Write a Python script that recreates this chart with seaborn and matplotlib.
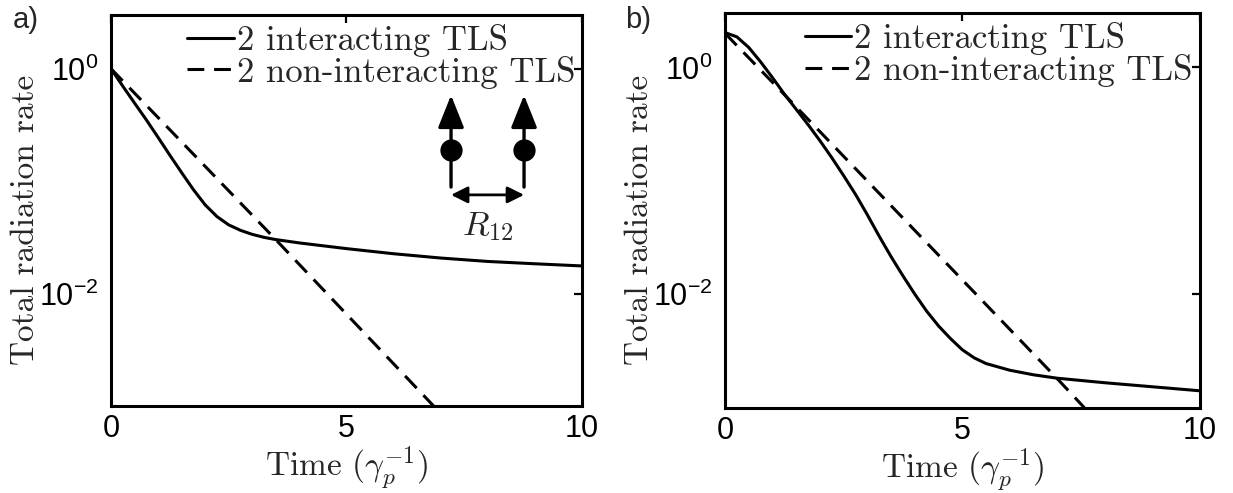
import numpy as np
import pandas as pd
import matplotlib
matplotlib.use("Agg")
import matplotlib.pyplot as plt
import seaborn as sns

# ---------------- data ----------------
# panel a: interacting TLS (solid)
t_a_int = [0.0, 0.25, 0.5, 0.75, 1.0, 1.25, 1.5, 1.75, 2.0, 2.25, 2.5, 2.75, 3.0,
           3.25, 3.5, 4.0, 5.0, 6.0, 7.0, 8.0, 9.0, 10.0]
r_a_int = [1.0, 0.700, 0.495, 0.351, 0.245, 0.170, 0.1190, 0.0840, 0.0615, 0.0484,
           0.0408, 0.0365, 0.0336, 0.0316, 0.0302, 0.0282, 0.0251, 0.0226, 0.0207,
           0.0193, 0.0184, 0.0176]
# panel a: non-interacting TLS (dashed)
t_a_non = [0.0, 3.45, 6.85]
r_a_non = [1.0, 0.0317, 1.0e-3]

# panel b: interacting TLS (solid)
t_b_int = [0.0, 0.25, 0.5, 0.75, 1.0, 1.25, 1.5, 1.75, 2.0, 2.25, 2.5, 2.75, 3.0,
           3.25, 3.5, 3.75, 4.0, 4.25, 4.5, 4.75, 5.0, 5.25, 5.5, 6.0, 6.5, 7.0,
           8.0, 9.0, 10.0]
r_b_int = [2.03, 1.86, 1.50, 1.12, 0.813, 0.582, 0.427, 0.313, 0.226, 0.160, 0.111,
           0.0759, 0.0501, 0.0324, 0.0214, 0.0145, 0.0100, 0.00708, 0.00525, 0.00407,
           0.00324, 0.00275, 0.00245, 0.00214, 0.00195, 0.00182, 0.00166, 0.00153,
           0.00141]
# panel b: non-interacting TLS (dashed)
t_b_non = [0.0, 1.13, 7.0, 7.57]
r_b_non = [2.0, 0.65, 0.0018, 1.0e-3]

labels = ["2 interacting TLS", "2 non-interacting TLS"]
x_ticks = [0, 5, 10]
y_ticks = [1e-2, 1e0]
y_ticklabels = [r"$\mathdefault{10^{-2}}$", r"$\mathdefault{10^{0}}$"]
panel_tags = ["a)", "b)"]
xlabel = r"Time ($\gamma_p^{-1}$)"
ylabel = "Total radiation rate"

# ---------------- style ----------------
sns.set_style("white")
plt.rcParams["font.family"] = ["Liberation Sans", "DejaVu Sans"]
plt.rcParams["mathtext.fontset"] = "cm"
plt.rcParams["axes.formatter.use_mathtext"] = True

fig = plt.figure(figsize=(12.33, 4.93), dpi=100)
ax1 = fig.add_axes([0.0900, 0.1765, 0.382, 0.793])
ax2 = fig.add_axes([0.5880, 0.1730, 0.385, 0.800])

serif = "cmr10"
LW = 2.2
FS_LEG = 25
FS_X = 24
FS_Y = 24

def draw(ax, t_int, r_int, t_non, r_non):
    df_i = pd.DataFrame({"t": t_int, "r": r_int})
    df_n = pd.DataFrame({"t": t_non, "r": r_non})
    sns.lineplot(data=df_i, x="t", y="r", ax=ax, color="black", lw=LW,
                 label=labels[0], estimator=None, sort=False)
    sns.lineplot(data=df_n, x="t", y="r", ax=ax, color="black", lw=LW,
                 label=labels[1], estimator=None, sort=False,
                 dashes=False, linestyle=(0, (5.5, 3.2)))
    ax.set_yscale("log")
    ax.set_xlim(0, 10)
    ax.set_ylim(1e-3, 3.0)
    ax.set_xticks(x_ticks)
    ax.set_xticklabels([str(v) for v in x_ticks])
    ax.set_yticks(y_ticks)
    ax.set_yticklabels(y_ticklabels)
    ax.yaxis.set_minor_locator(matplotlib.ticker.NullLocator())
    ax.tick_params(axis="both", which="major", direction="in", length=6, width=1.6,
                   labelsize=22, top=True, right=True, colors="black")
    ax.tick_params(axis="x", pad=6)
    ax.tick_params(axis="y", pad=9)
    for s in ax.spines.values():
        s.set_linewidth(2.2)
        s.set_color("black")
    ax.set_xlabel(xlabel, fontfamily=serif, fontsize=FS_X, labelpad=0.5)
    ax.set_ylabel(ylabel, fontfamily=serif, fontsize=FS_Y)
    ax.yaxis.set_label_coords(-0.15, 0.476)
    leg = ax.legend(loc="upper right", bbox_to_anchor=(1.0, 0.995), frameon=False,
                    prop={"family": serif, "size": FS_LEG}, handlelength=1.35,
                    handletextpad=0.08, labelspacing=-0.04, borderaxespad=0.0,
                    borderpad=0.2)
    for h in leg.get_lines():
        h.set_linewidth(LW)

draw(ax1, t_a_int, r_a_int, t_a_non, r_a_non)
draw(ax2, t_b_int, r_b_int, t_b_non, r_b_non)

# ---------------- inset sketch (panel a) ----------------
tr = ax1.transAxes
for xa in (0.722, 0.877):
    ax1.annotate("", xy=(xa, 0.795), xytext=(xa, 0.560), xycoords=tr, textcoords=tr,
                 arrowprops=dict(arrowstyle="-|>,head_length=20,head_width=8",
                                 mutation_scale=1, lw=2.4, color="black",
                                 shrinkA=0, shrinkB=0))
    ax1.plot([xa], [0.655], marker="o", ms=15, color="black", transform=tr, clip_on=False)
ax1.annotate("", xy=(0.877, 0.540), xytext=(0.722, 0.540), xycoords=tr, textcoords=tr,
             arrowprops=dict(arrowstyle="<|-|>,head_length=10,head_width=5",
                             mutation_scale=1, lw=2.0, color="black",
                             shrinkA=0, shrinkB=0))
ax1.text(0.80, 0.458, r"$R_{12}$", transform=tr, ha="center", va="center", fontsize=25)

fig.text(13 / 1233, 1 - 6 / 493, panel_tags[0], ha="left", va="top", fontsize=21)
fig.text(625 / 1233, 1 - 6 / 493, panel_tags[1], ha="left", va="top", fontsize=21)

fig.savefig("out.png", dpi=100)
